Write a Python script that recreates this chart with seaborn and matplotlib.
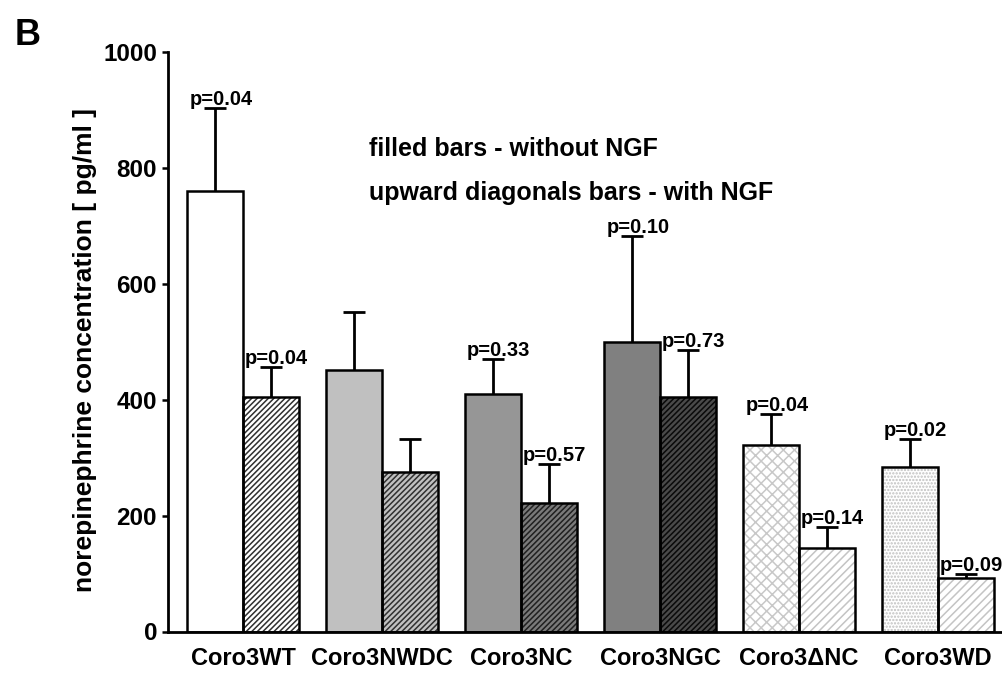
import matplotlib
matplotlib.use("Agg")
import matplotlib.pyplot as plt
import numpy as np
import pandas as pd
import seaborn as sns

# Norepinephrine release per Coronin 3 construct, without / with NGF
constructs = ["Coro3WT", "Coro3NWDC", "Coro3NC", "Coro3NGC", "Coro3\u0394NC", "Coro3WD"]
treatments = ["without NGF", "with NGF"]
mean_without = [760, 451, 410, 499, 322, 284]
mean_with = [405, 276, 221, 405, 145, 93]
err_without = [143, 101, 60, 183, 53, 48]
err_with = [52, 57, 68, 81, 36, 6]
p_without = ["p=0.04", "", "p=0.33", "p=0.10", "p=0.04", "p=0.02"]
p_with = ["p=0.04", "", "p=0.57", "p=0.73", "p=0.14", "p=0.09"]
y_ticks = [0, 200, 400, 600, 800, 1000]

df = pd.DataFrame({
    "construct": constructs * 2,
    "treatment": [treatments[0]] * len(constructs) + [treatments[1]] * len(constructs),
    "value": mean_without + mean_with,
})

sns.set_style("ticks")
plt.rcParams["font.family"] = ["Liberation Sans", "DejaVu Sans"]
plt.rcParams["font.weight"] = "bold"
plt.rcParams["text.color"] = "black"
plt.rcParams["axes.labelcolor"] = "black"
plt.rcParams["hatch.linewidth"] = 1.1

W, H = 1002, 675
fig = plt.figure(figsize=(W / 100, H / 100), dpi=100)
ax = fig.add_axes([168 / W, 43.5 / H, 834 / W, 579.2 / H])

# fill layer (faces and hatch patterns)
sns.barplot(data=df, x="construct", y="value", hue="treatment",
            order=constructs, hue_order=treatments, errorbar=None,
            width=0.8, gap=0, legend=False, ax=ax)
# outline layer
sns.barplot(data=df, x="construct", y="value", hue="treatment",
            order=constructs, hue_order=treatments, errorbar=None,
            width=0.8, gap=0, legend=False, ax=ax, fill=False)

# (face, hatch, hatch colour) per construct
style_without = [
    ("white", "", "white"),
    ("#c0c0c0", "", "#c0c0c0"),
    ("#969696", "", "#969696"),
    ("#808080", "", "#808080"),
    ("white", "xxx", "#c8c8c8"),
    ("white", ".....", "#c0c0c0"),
]
style_with = [
    ("white", "//////", "#303030"),
    ("#c0c0c0", "//////", "#303030"),
    ("#7a7a7a", "//////", "#202020"),
    ("#4a4a4a", "//////", "#0a0a0a"),
    ("white", "////", "#c4c4c4"),
    ("white", "////", "#c4c4c4"),
]

fill_containers = ax.containers[:2]
line_containers = ax.containers[2:4]
for cont, styles in zip(fill_containers, [style_without, style_with]):
    for patch, (fc, hatch, hc) in zip(cont.patches, styles):
        patch.set_facecolor(fc)
        patch.set_edgecolor(hc)
        patch.set_hatch(hatch)
        patch.set_linewidth(0)
        patch.set_zorder(2)
for cont in line_containers:
    for patch in cont.patches:
        patch.set_facecolor("none")
        patch.set_edgecolor("black")
        patch.set_linewidth(1.8)
        patch.set_zorder(3)

# upper error bars and p-values
cap_half = 0.079
for cont, errs, labels in zip(line_containers, [err_without, err_with], [p_without, p_with]):
    for patch, e, lab in zip(cont.patches, errs, labels):
        cx = patch.get_x() + patch.get_width() / 2
        top = patch.get_height()
        ax.vlines(cx, top, top + e, color="black", lw=2.0, zorder=1)
        ax.hlines(top + e, cx - cap_half, cx + cap_half, color="black", lw=2.0, zorder=4)
        if lab:
            ax.annotate(lab, xy=(cx, top + e), xytext=(4, 2.2), textcoords="offset points",
                        ha="center", va="baseline", fontsize=14.5, fontweight="bold",
                        color="black", zorder=5)

ax.set_xlim(-0.54, 5.46)
ax.set_ylim(0, 1000)
ax.set_yticks(y_ticks)
ax.set_yticklabels([str(t) for t in y_ticks])
ax.set_xlabel("")
ax.set_ylabel("norepinephrine concentration [ pg/ml ]", fontsize=19, fontweight="bold",
              color="black")
ax.yaxis.set_label_coords((97 - 168) / 834, (631.5 - 350) / 579.2)

for s in ["top", "right"]:
    ax.spines[s].set_visible(False)
for s in ["left", "bottom"]:
    ax.spines[s].set_linewidth(2.0)
    ax.spines[s].set_color("black")
ax.tick_params(axis="y", direction="out", length=4.3, width=1.8, pad=3.6,
               labelsize=17.5, colors="black")
ax.tick_params(axis="x", length=0, pad=11.5, labelsize=17, colors="black")
for lab in ax.get_xticklabels() + ax.get_yticklabels():
    lab.set_fontweight("bold")

fig.text(15 / W, 1 - 45 / H, "B", fontsize=26, fontweight="bold", va="baseline", color="black")
fig.text(369 / W, 1 - 156 / H, "filled bars - without NGF", fontsize=18,
         fontweight="bold", va="baseline", color="black")
fig.text(369 / W, 1 - 200 / H, "upward diagonals bars - with NGF", fontsize=18,
         fontweight="bold", va="baseline", color="black")

fig.savefig("out.png", dpi=100)
